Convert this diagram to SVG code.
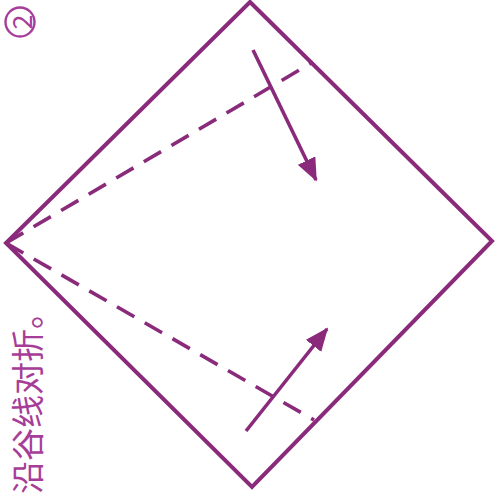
<svg xmlns="http://www.w3.org/2000/svg" width="496" height="498" viewBox="0 0 496 498">
<style>
.edge{fill:none;stroke:#8a2a7a;stroke-width:4;stroke-linejoin:miter}
.dash{fill:none;stroke:#8a2a7a;stroke-width:3.6;stroke-dasharray:20 12}
.arrow{fill:none;stroke:#8a2a7a;stroke-width:3.6}
.lbl{font-family:"Noto Sans CJK SC","Noto Sans",sans-serif;fill:#a63d98}
</style>
<defs>
<marker id="ah" markerWidth="6.5" markerHeight="5.4" refX="6" refY="2.7" orient="auto" markerUnits="strokeWidth">
<path d="M0,0 L6.5,2.7 L0,5.4 Z" fill="#8a2a7a"/>
</marker>
</defs>
<rect width="496" height="498" fill="#fff"/>
<g id="paper">
<polygon class="edge" points="250,2 492,241 252,487 6,243"/>
</g>
<g id="connectors">
<line class="dash" x1="6" y1="243" x2="313" y2="62"/>
<line class="dash" x1="6" y1="243" x2="314" y2="420"/>
<line class="arrow" x1="253" y1="50" x2="316" y2="180" marker-end="url(#ah)"/>
<line class="arrow" x1="246" y1="431" x2="327" y2="329" marker-end="url(#ah)"/>
</g>
<g id="step">
<circle cx="20" cy="22" r="14.5" fill="none" stroke="#a63d98" stroke-width="2.4"/>
<text class="lbl" font-size="27" text-anchor="middle" dominant-baseline="central" transform="translate(20,22) rotate(-90)">2</text>
</g>
<g id="caption">
<text class="lbl" font-size="33" transform="translate(40,494) rotate(-90)">沿谷线对折。</text>
</g>
</svg>
